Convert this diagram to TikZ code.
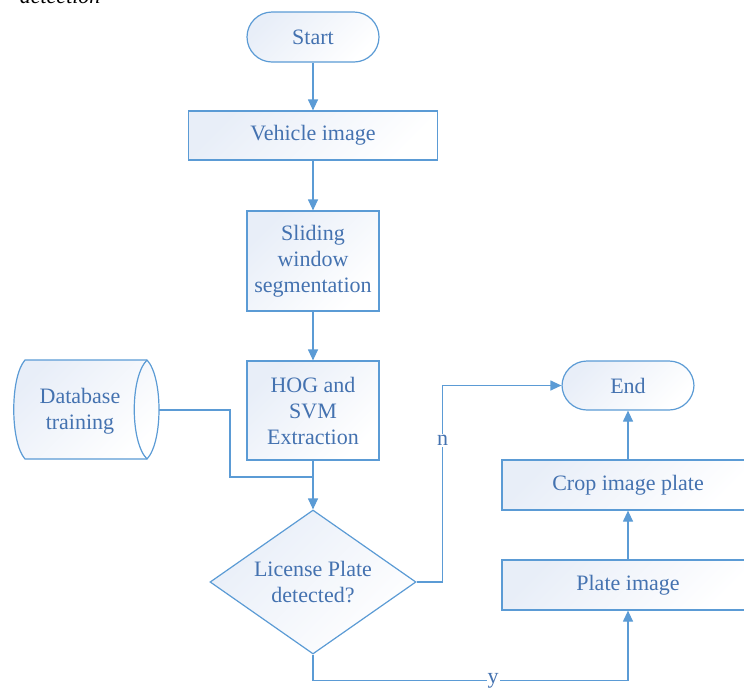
\documentclass[tikz,border=0pt]{standalone}
\usepackage{fontspec}
\setmainfont{Liberation Serif}
\usetikzlibrary{shapes.geometric,arrows.meta}
\definecolor{lineblue}{RGB}{91,155,213}
\definecolor{textblue}{RGB}{68,114,176}
\definecolor{fillblue}{RGB}{232,238,248}
\tikzset{>={Triangle[length=11pt,width=10pt]}}
\tikzset{
  box/.style={draw=lineblue, line width=1.2pt, top color=fillblue, bottom color=white,
    shading angle=45, text=textblue, font=\fontsize{22}{26}\selectfont, align=center, inner sep=0pt},
  proc/.style={box, rectangle, minimum height=50pt},
  term/.style={box, rectangle, rounded corners=25pt, minimum width=132pt, minimum height=50pt},
  decide/.style={box, diamond, minimum width=206pt, minimum height=144pt, aspect=1.43},
  link/.style={lineblue, line width=1.2pt},
  tag/.style={fill=white, text=textblue, font=\fontsize{22}{26}\selectfont, inner sep=1pt}
}

\begin{document}
\begin{tikzpicture}[x=1pt,y=-1pt]
\useasboundingbox (0,0) rectangle (744,689);
\clip (0,0) rectangle (744,689);
% caption cut off at the top
\node[anchor=base east, font=\fontsize{22}{26}\selectfont\itshape] (cap) at (104,3) {detection};

% main column
\node[term] (start) at (313,37) {Start};
\node[proc, minimum width=249pt, minimum height=49pt] (vehicle) at (313,135.5) {Vehicle image};
\node[proc, minimum width=132pt, minimum height=100pt] (slide) at (313,261) {Sliding\\window\\segmentation};
\node[proc, minimum width=132pt, minimum height=99pt] (hog) at (313,410.5) {HOG and\\SVM\\Extraction};
\node[decide] (plate) at (313,582) {License Plate\\detected?};

% right column
\node[term, minimum height=49pt] (end) at (628,385.5) {End};
\node[proc, minimum width=252pt] (crop) at (628,485) {Crop image plate};
\node[proc, minimum width=252pt] (plimg) at (628,585) {Plate image};

% database
\draw[box] (25,360) -- (147,360) .. controls (163,377) and (163,442) .. (147,459)
  -- (25,459) .. controls (10,442) and (10,377) .. (25,360) -- cycle;
\draw[link] (147,360) .. controls (130,377) and (130,442) .. (147,459);
\node[text=textblue, font=\fontsize{22}{26}\selectfont, align=center] (db) at (80,411) {Database\\training};
\coordinate (dbout) at (159,410);
\coordinate (join) at (313,477);

% connectors
\draw[link,->] (start) -- (vehicle);
\draw[link,->] (vehicle) -- (slide);
\draw[link,->] (slide) -- (hog);
\draw[link,->] (hog) -- (plate);
\draw[link] (dbout) -- (230,410) |- (join);
\draw[link,->] (plate.east) -- ++(26,0) |- (end.west) node[tag, pos=0.36] {n};
\draw[link,->] (plate.south) -- ++(0,26) -| (plimg.south) node[tag, pos=0.286] {y};
\draw[link,->] (plimg) -- (crop);
\draw[link,->] (crop) -- (end);
\end{tikzpicture}
\end{document}
